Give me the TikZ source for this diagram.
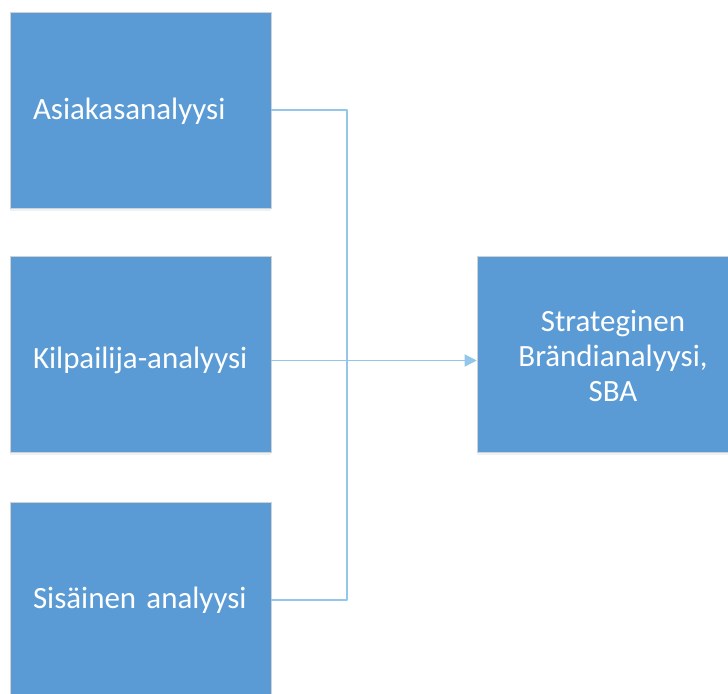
\documentclass[tikz,border=0pt]{standalone}
\usepackage{fontspec}
\setmainfont{Carlito}
\usepackage{tikz}
\usetikzlibrary{arrows.meta,shadows}
\usepackage{xcolor}
\definecolor{boxblue}{HTML}{5B9BD5}
\definecolor{linkblue}{HTML}{92C6EA}

\begin{document}
\begin{tikzpicture}[x=0.75pt,y=-0.75pt,font=\fontsize{23.2}{26.25}\selectfont,
  box/.style={draw=black!18,line width=0.4pt,fill=boxblue,text=white,
    minimum width=195.75pt,minimum height=147pt,
    drop shadow={opacity=0.12,shadow xshift=0pt,shadow yshift=-2pt,fill=boxblue}},
  leftbox/.style={box,text width=161.25pt,inner xsep=17.25pt,align=left,text depth=0pt},
  conn/.style={draw=linkblue,line width=0.9pt},
  >={Triangle[length=9pt,width=9pt]}]
\useasboundingbox (0,0) rectangle (728,693);
\node[leftbox,text height=13.5pt] (asiakas) at (140.5,110) {Asiakasanalyysi};
\node[leftbox,text height=21pt] (kilpailija) at (140.5,354.5) {Kilpailija-analyysi};
\node[leftbox,text height=13pt] (sisainen) at (140.5,600) {Sis\"ainen analyysi};
\node[box,minimum width=204pt] (sba) at (613,354.5)
  {\raisebox{0pt}[0pt][34.2pt]{\parbox[t]{180pt}{\centering Strateginen\\Br\"andianalyysi,\\SBA}}};
\coordinate (liitos) at (347,360.5);
\draw[conn,line join=round] (asiakas.east) -| (liitos) |- (sisainen.east);
\draw[conn,->] ([yshift=-4.5pt]kilpailija.east) -- ([yshift=-4.5pt]sba.west);
\end{tikzpicture}
\end{document}
